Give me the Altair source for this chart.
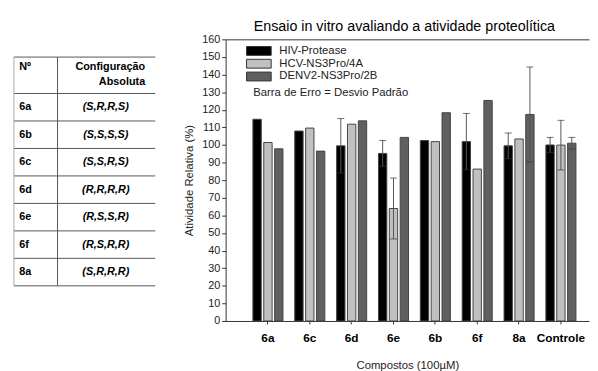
import altair as alt
import pandas as pd

# ---------------- data ----------------
compounds = ["6a", "6c", "6d", "6e", "6b", "6f", "8a", "Controle"]
series = ["HIV-Protease", "HCV-NS3Pro/4A", "DENV2-NS3Pro/2B"]
hiv = [114.6, 107.9, 99.5, 95.2, 102.5, 101.9, 99.5, 100.0]
hcv = [101.4, 109.6, 111.8, 63.9, 101.9, 86.3, 103.4, 99.9]
denv = [97.8, 96.5, 113.7, 104.3, 118.3, 125.3, 117.3, 101.0]
hiv_sd = [None, None, 15.5, 7.3, None, 16.0, 7.3, 4.3]
hcv_sd = [None, None, None, 17.3, None, None, None, 14.1]
denv_sd = [None, None, None, None, None, None, 27.0, 3.3]
colors = ["#000000", "#c0c0c0", "#606060"]
y_ticks = list(range(0, 161, 10))
y_max = 160

table_ids = ["6a", "6b", "6c", "6d", "6e", "6f", "8a"]
table_configs = ["(S,R,R,S)", "(S,S,S,S)", "(S,S,R,S)", "(R,R,R,R)",
                 "(R,S,S,R)", "(R,S,R,R)", "(S,R,R,R)"]
header_id = "Nº"
header_config = ["Configuração", "Absoluta"]

FONT = "Liberation Sans"
PLOT_W = 369
PLOT_H = 286

# ---------------- bar chart ----------------
rows = []
for s, vals, sds in zip(series, [hiv, hcv, denv], [hiv_sd, hcv_sd, denv_sd]):
    for c, v, sd in zip(compounds, vals, sds):
        rows.append({"compound": c, "series": s, "value": v, "sd": sd})
df = pd.DataFrame(rows)
err = df.dropna(subset=["sd"]).copy()
err["lo"] = err["value"] - err["sd"]
err["hi"] = err["value"] + err["sd"]

x_scale = alt.Scale(paddingInner=0.282, paddingOuter=0.482, align=0.676)
x_axis = alt.Axis(title="Compostos (100µM)", labelAngle=0, labelFont=FONT,
                  labelFontWeight="bold", labelFontSize=12, labelColor="#000",
                  tickSize=3, tickColor="#333", domainColor="#333",
                  labelPadding=9, titleFont=FONT, titleFontWeight="normal",
                  titleFontSize=11.5, titleColor="#222", titlePadding=16)
xo_enc = alt.XOffset("series:N", sort=series,
                     scale=alt.Scale(domain=series, paddingInner=0.23, paddingOuter=0))
y_scale = alt.Scale(domain=[0, y_max], nice=False)
# the grid line drawn only at the top value gives the plot's top frame line
y_axis = alt.Axis(title="Atividade Relativa (%)", values=y_ticks,
                  labelFont=FONT, labelFontSize=11, labelColor="#222",
                  tickSize=4, tickColor="#333", domainColor="#333",
                  grid=True, gridOpacity=1, gridWidth=1,
                  gridColor={"condition": {"test": f"datum.value === {y_max}",
                                           "value": "#333333"},
                             "value": "transparent"},
                  labelPadding=2, titleFont=FONT,
                  titleFontWeight="normal", titleFontSize=11.5,
                  titleColor="#222", titlePadding=7)

bars = alt.Chart(df).mark_bar(stroke="#444", strokeWidth=1).encode(
    x=alt.X("compound:N", sort=compounds, scale=x_scale, axis=x_axis),
    xOffset=xo_enc,
    y=alt.Y("value:Q", scale=y_scale, axis=y_axis),
    color=alt.Color("series:N", sort=series,
                    scale=alt.Scale(domain=series, range=colors),
                    legend=alt.Legend(
                        title="Barra de Erro = Desvio Padrão",
                        titleOrient="bottom", titleAnchor="start",
                        titleFont=FONT, titleFontWeight="normal",
                        titleFontSize=11.5, titleColor="#222", titlePadding=5,
                        orient="none", legendX=28, legendY=6,
                        symbolType="M-2.5,-0.9H2.5V0.9H-2.5Z", symbolSize=100,
                        symbolStrokeColor="#333", symbolStrokeWidth=1,
                        labelFont=FONT, labelFontSize=11.5, labelColor="#222",
                        labelOffset=15, rowPadding=-1)),
)

err_rules = alt.Chart(err).mark_rule(color="#555", strokeWidth=1).encode(
    x=alt.X("compound:N", sort=compounds, scale=x_scale, axis=x_axis),
    xOffset=xo_enc, y=alt.Y("lo:Q", scale=y_scale, axis=y_axis), y2="hi:Q"
)
caps = alt.Chart(err).transform_fold(["lo", "hi"], as_=["end", "v"]).mark_tick(
    color="#333", size=7, thickness=1
).encode(x=alt.X("compound:N", sort=compounds, scale=x_scale, axis=x_axis),
         xOffset=xo_enc, y=alt.Y("v:Q", scale=y_scale, axis=y_axis))

chart = alt.layer(bars, err_rules, caps).properties(
    width=PLOT_W, height=PLOT_H,
    view=alt.ViewBackground(stroke="transparent"),
    title=alt.Title("Ensaio in vitro avaliando a atividade proteolítica",
                    font=FONT, fontSize=14.5, fontWeight="normal", color="#000",
                    anchor="middle", offset=-1, dx=-3),
)

# ---------------- table ----------------
TABLE_W = 143.5
PANEL_H = 250
TOP = 18
HEADER_H = 37
ROW_H = 27.9
DIVIDER = 44.3
COL1_LEFT = 5.3
COL2_CENTER = 93.3
COL2_RIGHT = 133.3

header_bottom = TOP + HEADER_H
tbl = pd.DataFrame({"id": table_ids, "config": table_configs})
tbl["ty"] = [header_bottom + ROW_H * (i + 0.5) for i in range(len(tbl))]
hlines = pd.DataFrame({"ty": [TOP, header_bottom] +
                       [header_bottom + ROW_H * (k + 1) for k in range(len(tbl))]})
hdr = pd.DataFrame({"t": header_config, "ty": [TOP + 10, TOP + 25.7]})

tx = alt.Scale(domain=[0, TABLE_W], nice=False)
ty = alt.Scale(domain=[0, PANEL_H], nice=False, reverse=True)

h_rules = alt.Chart(hlines).mark_rule(color="#555", strokeWidth=1).encode(
    y=alt.Y("ty:Q", scale=ty, axis=None),
    x=alt.X(datum=0, scale=tx, axis=None), x2=alt.datum(TABLE_W),
)
left_rule = alt.Chart(pd.DataFrame({"a": [0]})).mark_rule(color="#aaa", strokeWidth=1).encode(
    x=alt.X(datum=0, scale=tx, axis=None),
    y=alt.Y(datum=TOP, scale=ty, axis=None), y2=alt.datum(PANEL_H),
)
div_rule = alt.Chart(pd.DataFrame({"a": [0]})).mark_rule(color="#555", strokeWidth=1).encode(
    x=alt.X(datum=DIVIDER, scale=tx, axis=None),
    y=alt.Y(datum=TOP, scale=ty, axis=None), y2=alt.datum(PANEL_H),
)
id_text = alt.Chart(tbl).mark_text(
    align="left", baseline="middle", font=FONT, fontSize=11,
    fontWeight="bold", color="#000"
).encode(x=alt.X(datum=COL1_LEFT, scale=tx, axis=None),
         y=alt.Y("ty:Q", scale=ty, axis=None), text="id:N")
cfg_text = alt.Chart(tbl).mark_text(
    align="center", baseline="middle", font=FONT, fontSize=11,
    fontWeight="bold", fontStyle="italic", color="#000"
).encode(x=alt.X(datum=COL2_CENTER, scale=tx, axis=None),
         y=alt.Y("ty:Q", scale=ty, axis=None), text="config:N")
hdr1 = alt.Chart(pd.DataFrame({"t": [header_id]})).mark_text(
    align="left", baseline="middle", font=FONT, fontSize=11,
    fontWeight="bold", color="#000"
).encode(x=alt.X(datum=COL1_LEFT, scale=tx, axis=None),
         y=alt.Y(datum=TOP + 10, scale=ty, axis=None), text="t:N")
hdr2 = alt.Chart(hdr).mark_text(
    align="right", baseline="middle", font=FONT, fontSize=11,
    fontWeight="bold", color="#000"
).encode(x=alt.X(datum=COL2_RIGHT, scale=tx, axis=None),
         y=alt.Y("ty:Q", scale=ty, axis=None), text="t:N")

table = alt.layer(h_rules, left_rule, div_rule, id_text, cfg_text, hdr1, hdr2).properties(
    width=TABLE_W, height=PANEL_H,
    view=alt.ViewBackground(stroke="transparent"),
)

final = alt.hconcat(table, chart, spacing=27).resolve_scale(
    x="independent", y="independent"
).resolve_legend(
    color="independent"
).properties(
    padding={"left": 5, "top": 8, "right": 0, "bottom": 0}
).configure(font=FONT)

final.save("out.html", embed_options={"renderer": "svg", "actions": False})
